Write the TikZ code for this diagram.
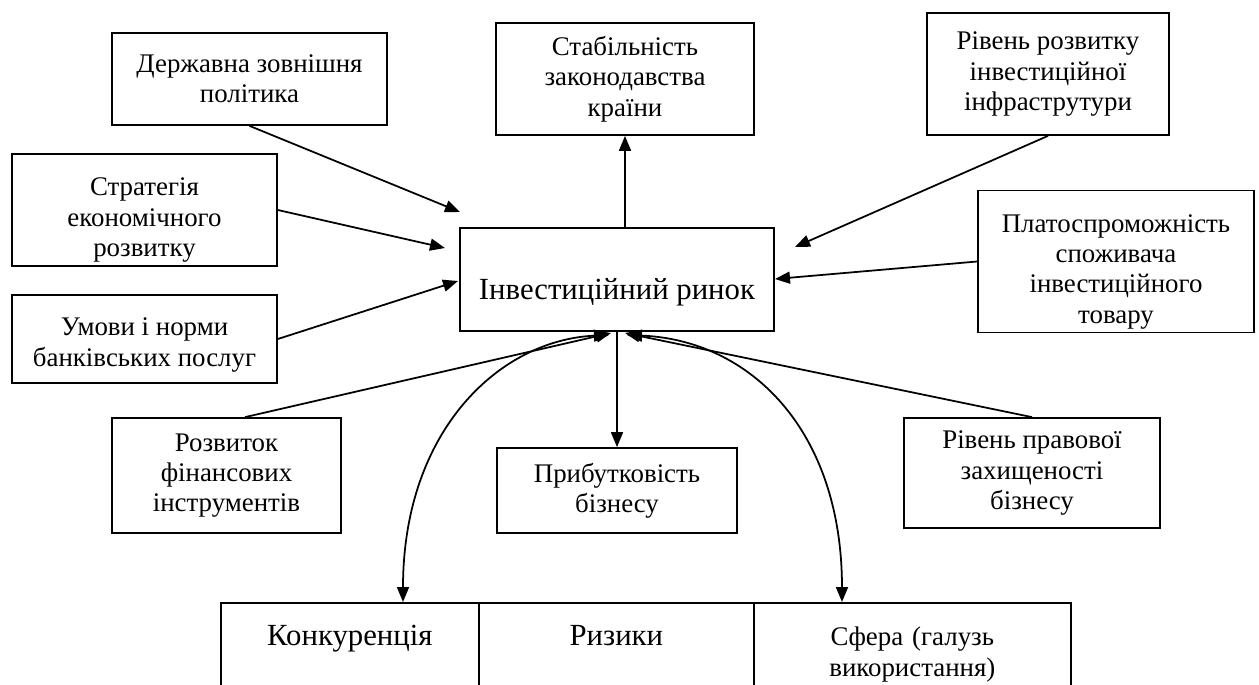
\documentclass[tikz,border=0pt]{standalone}
\usepackage{fontspec}
\setmainfont{Liberation Serif}
\usetikzlibrary{arrows.meta}

\newcommand{\topgap}[1]{\rule{0pt}{#1}}

\tikzset{
  box/.style={draw, line width=1pt, align=center, inner sep=2pt,
    font=\fontsize{15.3}{17.3}\selectfont},
  cell/.style={draw, line width=1pt, anchor=north west, inner sep=0pt,
    align=center, text width=#1, minimum width=#1,
    text height=0.86cm, text depth=1.6cm},
  link/.style={line width=1pt, -{Triangle[length=0.3cm,width=0.24cm]}},
  twoway/.style={line width=1pt,
    {Triangle[length=0.3cm,width=0.24cm]}-{Triangle[length=0.3cm,width=0.24cm]}},
}

\begin{document}
\begin{tikzpicture}[x=0.02cm, y=-0.02cm]
  \useasboundingbox (0,0) rectangle (1259,684);
  \clip (0,0) rectangle (1259,684);

  % central node
  \node[box, minimum width=6.28cm, minimum height=2.06cm, text height=0.78cm, text depth=0pt,
    font=\fontsize{17.5}{20}\selectfont] (rynok) at (617,279.5) {Інвестиційний ринок};

  % factors around
  \node[box, minimum width=5.5cm, minimum height=1.84cm] (derzh) at (249.5,79)
    {Державна зовнішня\\політика};
  \node[box, minimum width=5.3cm, minimum height=2.2cm] (strat) at (144.5,210)
    {\topgap{0.76cm}Стратегія\\економічного\\розвитку};
  \node[box, minimum width=5.3cm, minimum height=1.76cm] (umovy) at (144.5,339)
    {\topgap{0.6cm}Умови і норми\\банківських послуг};
  \node[box, minimum width=5.16cm, minimum height=2.24cm] (stab) at (625,79)
    {Стабільність\\законодавства\\країни};
  \node[box, minimum width=4.84cm, minimum height=2.44cm] (infra) at (1048,74)
    {Рівень розвитку\\інвестиційної\\інфраструтури};
  \node[box, minimum width=5.52cm, minimum height=2.78cm] (platos) at (1116,261.5)
    {\topgap{0.76cm}Платоспроможність\\споживача\\інвестиційного\\товару};
  \node[box, minimum width=4.58cm, minimum height=2.3cm] (rozv) at (226.5,475.5)
    {Розвиток\\фінансових\\інструментів};
  \node[box, minimum width=4.8cm, minimum height=1.7cm] (prybut) at (617,490.5)
    {Прибутковість\\бізнесу};
  \node[box, minimum width=5.12cm, minimum height=2.2cm] (pravo) at (1032,473)
    {Рівень правової\\захищеності\\бізнесу};

  % bottom row
  \node[cell=5.16cm, font=\fontsize{17.5}{20}\selectfont] (konk) at (220,602) {Конкуренція};
  \node[cell=5.5cm, font=\fontsize{17.5}{20}\selectfont] (ryzyk) at (478,602) {Ризики};
  \node[cell=6.34cm, font=\fontsize{15.3}{17.3}\selectfont] (sfera) at (753,602)
    {Сфера (галузь\\використання)};

  % arrow tips
  \coordinate (tDerzh) at (460,212);
  \coordinate (tStrat) at (445,248);
  \coordinate (tUmovy) at (458,281);
  \coordinate (tInfra) at (795,247);
  \coordinate (tPlatos) at (775,279);
  \coordinate (tLeft) at (611,333);
  \coordinate (tRight) at (625,333);
  \coordinate (cLeft) at (609,335);
  \coordinate (cRight) at (627,335);

  \draw[link] (derzh.south) -- (tDerzh);
  \draw[link] (strat.east) -- (tStrat);
  \draw[link] (umovy.east) -- (tUmovy);
  \draw[link] (stab.south |- rynok.north) -- (stab.south);
  \draw[link] (infra.south) -- (tInfra);
  \draw[link] (platos.west) -- (tPlatos);
  \draw[link] ([xshift=0.37cm]rozv.north) -- (tLeft);
  \draw[link] (pravo.north) -- (tRight);
  \draw[link] (rynok.south) -- (prybut.north);
  \draw[twoway] (cLeft) .. controls (500,340) and (403,430) .. (konk.north -| 403,0);
  \draw[twoway] (cRight) .. controls (750,340) and (842,430) .. (sfera.north -| 842,0);
\end{tikzpicture}
\end{document}
